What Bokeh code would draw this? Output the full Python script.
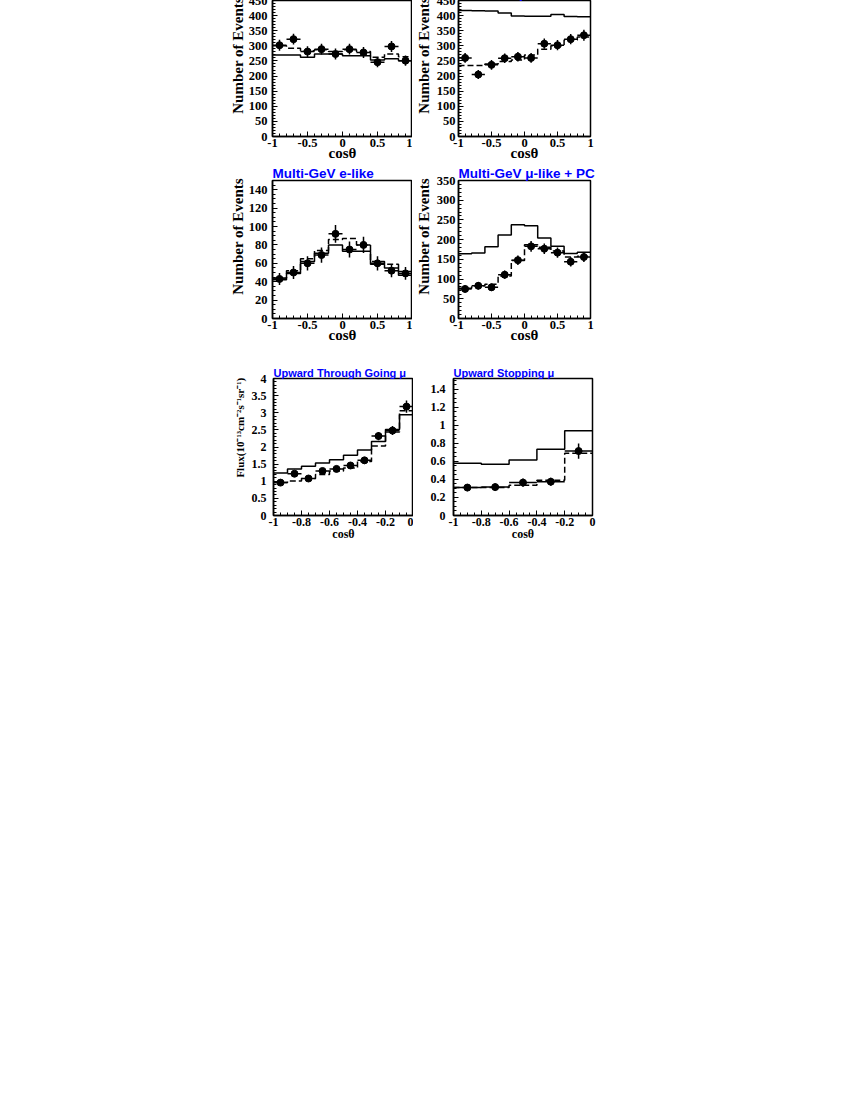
import numpy as np
from bokeh.plotting import figure
from bokeh.models import FixedTicker, Range1d
from bokeh.layouts import row, column
from bokeh.embed import file_html
from bokeh.resources import INLINE

# ---------------- data ----------------
edges_full = [-1.0, -0.8, -0.6, -0.4, -0.2, 0.0, 0.2, 0.4, 0.6, 0.8, 1.0]
centers_full = [-0.9, -0.7, -0.5, -0.3, -0.1, 0.1, 0.3, 0.5, 0.7, 0.9]

# Sub-GeV e-like
e_sub_data = [302, 322, 281, 289, 273, 289, 278, 246, 298, 251]
e_sub_err = [18, 18, 18, 18, 18, 18, 18, 17, 18, 17]
e_sub_noosc = [270, 270, 262, 273, 273, 267, 267, 253, 257, 251]
e_sub_osc = [300, 292, 284, 287, 281, 287, 281, 262, 273, 264]

# Sub-GeV mu-like
mu_sub_data = [260, 205, 237, 259, 264, 260, 307, 302, 322, 335]
mu_sub_err = [16, 15, 16, 16, 16, 16, 17, 17, 17, 18]
mu_sub_noosc = [417, 416, 415, 409, 399, 398, 398, 404, 397, 396]
mu_sub_osc = [235, 235, 240, 248, 253, 270, 289, 300, 319, 329]

# Multi-GeV e-like
e_multi_data = [43, 50, 60, 69, 92, 75, 80, 60, 52, 49]
e_multi_err = [6.5, 7.0, 7.7, 8.3, 9.6, 8.7, 8.9, 7.7, 7.2, 7.0]
e_multi_noosc = [42, 49, 62, 71, 80, 73, 73, 59, 55, 47]
e_multi_osc = [44, 52, 65, 74, 86, 87, 80, 62, 59, 51]

# Multi-GeV mu-like + PC
mu_multi_data = [75, 83, 79, 111, 148, 183, 177, 167, 144, 156]
mu_multi_err = [9, 9.5, 9, 10.5, 12, 13.5, 13.3, 13, 12, 12.5]
mu_multi_noosc = [164, 166, 182, 212, 238, 235, 204, 183, 165, 168]
mu_multi_osc = [77, 83, 87, 108, 147, 187, 181, 171, 156, 158]

# Upward through-going mu
edges_thru = [-1.0, -0.9, -0.8, -0.7, -0.6, -0.5, -0.4, -0.3, -0.2, -0.1, 0.0]
centers_thru = [-0.95, -0.85, -0.75, -0.65, -0.55, -0.45, -0.35, -0.25, -0.15, -0.05]
thru_data = [0.96, 1.22, 1.08, 1.30, 1.36, 1.46, 1.61, 2.32, 2.48, 3.18]
thru_err = [0.09, 0.09, 0.08, 0.09, 0.09, 0.09, 0.10, 0.12, 0.13, 0.18]
thru_noosc = [1.24, 1.36, 1.44, 1.53, 1.63, 1.76, 1.91, 2.16, 2.51, 2.94]
thru_osc = [0.96, 1.01, 1.08, 1.20, 1.30, 1.39, 1.58, 2.03, 2.44, 3.06]

# Upward stopping mu
edges_stop = [-1.0, -0.8, -0.6, -0.4, -0.2, 0.0]
centers_stop = [-0.9, -0.7, -0.5, -0.3, -0.1]
stop_data = [0.31, 0.315, 0.365, 0.375, 0.715]
stop_err = [0.04, 0.04, 0.045, 0.045, 0.085]
stop_noosc = [0.58, 0.57, 0.615, 0.735, 0.94]
stop_osc = [0.31, 0.31, 0.335, 0.39, 0.69]

# tick labels
xt_full = [-1, -0.5, 0, 0.5, 1]
xt_full_lbl = ["-1", "-0.5", "0", "0.5", "1"]
xt_half = [-1, -0.8, -0.6, -0.4, -0.2, 0]
xt_half_lbl = ["-1", "-0.8", "-0.6", "-0.4", "-0.2", "0"]
yt_sub = [0, 50, 100, 150, 200, 250, 300, 350, 400, 450]
yt_emulti = [0, 20, 40, 60, 80, 100, 120, 140]
yt_mumulti = [0, 50, 100, 150, 200, 250, 300, 350]
yt_thru = [0, 0.5, 1, 1.5, 2, 2.5, 3, 3.5, 4]
yt_thru_lbl = ["0", "0.5", "1", "1.5", "2", "2.5", "3", "3.5", "4"]
yt_stop = [0, 0.2, 0.4, 0.6, 0.8, 1, 1.2, 1.4]
yt_stop_lbl = ["0", "0.2", "0.4", "0.6", "0.8", "1", "1.2", "1.4"]

SERIF = "Liberation Serif"
SANS = "Liberation Sans"
BLUE = "#0000ff"
NBSP = "\u00a0"


def minor_list(majors, step, lo, hi):
    out = []
    n = int(round((hi - lo) / step))
    for i in range(n + 1):
        v = round(lo + i * step, 6)
        if all(abs(v - m) > 1e-9 for m in majors):
            out.append(v)
    return out


def panel(width, height, mb_left, mb_right, mb_top, mb_bottom, xr, yr,
          edges, centers, data, err, noosc, osc, hw,
          xt, xt_lbl, xminor, yt, yt_lbl, yminor,
          title, title_size, ylabel, ylabel_size, ylabel_standoff, ylabel_pad,
          tick_size, xlab_size, xlab_standoff, ytick_standoff):
    p = figure(width=width, height=height, x_range=Range1d(*xr), y_range=Range1d(*yr),
               output_backend="svg", toolbar_location=None,
               min_border_left=mb_left, min_border_right=mb_right,
               min_border_top=mb_top, min_border_bottom=mb_bottom)
    p.grid.visible = False
    p.outline_line_color = "black"
    p.outline_line_width = 1.5
    p.background_fill_color = "white"
    p.border_fill_color = "white"

    p.title.text = title
    p.title.text_font = SANS
    p.title.text_font_style = "bold"
    p.title.text_font_size = title_size
    p.title.text_color = BLUE
    p.title.align = "left"
    p.title.standoff = 0
    p.title.offset = 0

    p.xaxis.ticker = FixedTicker(ticks=xt, minor_ticks=xminor)
    p.yaxis.ticker = FixedTicker(ticks=yt, minor_ticks=yminor)
    p.xaxis.major_label_overrides = {t: l for t, l in zip(xt, xt_lbl)}
    p.yaxis.major_label_overrides = {t: l for t, l in zip(yt, yt_lbl)}
    for ax in (p.xaxis[0], p.yaxis[0]):
        ax.axis_line_width = 1.5
        ax.axis_line_color = "black"
        ax.major_tick_in = 5
        ax.major_tick_out = 0
        ax.minor_tick_in = 3
        ax.minor_tick_out = 0
        ax.major_tick_line_width = 1
        ax.minor_tick_line_width = 1
        ax.major_label_text_font = SERIF
        ax.major_label_text_font_style = "bold"
        ax.major_label_text_font_size = tick_size
        ax.major_label_text_color = "black"
        ax.axis_label_text_font = SERIF
        ax.axis_label_text_font_style = "bold"
        ax.axis_label_text_color = "black"
    p.xaxis.major_label_standoff = 2
    p.yaxis.major_label_standoff = ytick_standoff

    p.xaxis.axis_label = "cosθ"
    p.xaxis.axis_label_text_font_size = xlab_size
    p.xaxis.axis_label_standoff = xlab_standoff
    if ylabel:
        # padding pushes the (centred) title towards the top of the axis
        p.yaxis.axis_label = NBSP * ylabel_pad + ylabel
        p.yaxis.axis_label_text_font_size = ylabel_size
        p.yaxis.axis_label_standoff = ylabel_standoff

    # histograms
    p.step(x=edges, y=list(noosc) + [noosc[-1]], mode="after",
           line_color="black", line_width=1.5)
    p.step(x=edges, y=list(osc) + [osc[-1]], mode="after",
           line_color="black", line_width=1.5, line_dash="6 3")

    # data with error bars
    c = np.array(centers, dtype=float)
    d = np.array(data, dtype=float)
    e = np.array(err, dtype=float)
    p.segment(x0=c, y0=d - e, x1=c, y1=d + e, line_color="black", line_width=1.5)
    p.segment(x0=c - hw, y0=d, x1=c + hw, y1=d, line_color="black", line_width=1.5)
    p.scatter(x=c, y=d, size=7, marker="circle", fill_color="black", line_color="black")
    return p


xminor_full = minor_list(xt_full, 0.1, -1, 1)
xminor_half = minor_list(xt_half, 0.05, -1, 0)

p1 = panel(412, 180, 272, 0, 16, 26, (-1, 1), (0, 450),
           edges_full, centers_full, e_sub_data, e_sub_err, e_sub_noosc, e_sub_osc, 0.1,
           xt_full, xt_full_lbl, xminor_full, yt_sub, [str(v) for v in yt_sub],
           minor_list(yt_sub, 10, 0, 450),
           "Sub-GeV e-like", "13.5px", "Number of Events", "15px", 0, 7,
           "12.5px", "15px", -5, 5)
p2 = panel(186, 180, 40, 8, 16, 26, (-1, 1), (0, 450),
           edges_full, centers_full, mu_sub_data, mu_sub_err, mu_sub_noosc, mu_sub_osc, 0.1,
           xt_full, xt_full_lbl, xminor_full, yt_sub, [str(v) for v in yt_sub],
           minor_list(yt_sub, 10, 0, 450),
           "Sub-GeV μ-like", "13.5px", "Number of Events", "15px", 2, 7,
           "12.5px", "15px", -5, 3)
p3 = panel(412, 201, 272, 0, 15, 46, (-1, 1), (0, 150),
           edges_full, centers_full, e_multi_data, e_multi_err, e_multi_noosc, e_multi_osc, 0.1,
           xt_full, xt_full_lbl, xminor_full, yt_emulti, [str(v) for v in yt_emulti],
           minor_list(yt_emulti, 5, 0, 150),
           "Multi-GeV e-like", "13.5px", "Number of Events", "15px", 0, 7,
           "12.5px", "15px", -5, 5)
p4 = panel(186, 201, 40, 8, 15, 46, (-1, 1), (0, 350),
           edges_full, centers_full, mu_multi_data, mu_multi_err, mu_multi_noosc, mu_multi_osc, 0.1,
           xt_full, xt_full_lbl, xminor_full, yt_mumulti, [str(v) for v in yt_mumulti],
           minor_list(yt_mumulti, 10, 0, 350),
           "Multi-GeV μ-like + PC", "13.5px", "Number of Events", "15px", 2, 7,
           "12.5px", "15px", -5, 3)
p5 = panel(413, 179, 273, 0, 13, 26, (-1, 0), (0, 4),
           edges_thru, centers_thru, thru_data, thru_err, thru_noosc, thru_osc, 0.05,
           xt_half, xt_half_lbl, xminor_half, yt_thru, yt_thru_lbl,
           minor_list(yt_thru, 0.1, 0, 4),
           "Upward Through Going μ", "11px", "Flux(10⁻¹³cm⁻²s⁻¹sr⁻¹)", "11px", 3, 14,
           "12px", "12px", -2, 7)
p6 = panel(185, 179, 40, 6, 13, 26, (-1, 0), (0, 1.52),
           edges_stop, centers_stop, stop_data, stop_err, stop_noosc, stop_osc, 0.1,
           xt_half, xt_half_lbl, xminor_half, yt_stop, yt_stop_lbl,
           minor_list(yt_stop, 0.05, 0, 1.5),
           "Upward Stopping μ", "11px", None, "11px", 0, 0,
           "12px", "12px", -2, 8)

layout = column(row(p1, p2), row(p3, p4), row(p5, p6), margin=(-17, 0, 0, 0))

open("out.html", "w").write(file_html(layout, INLINE))
